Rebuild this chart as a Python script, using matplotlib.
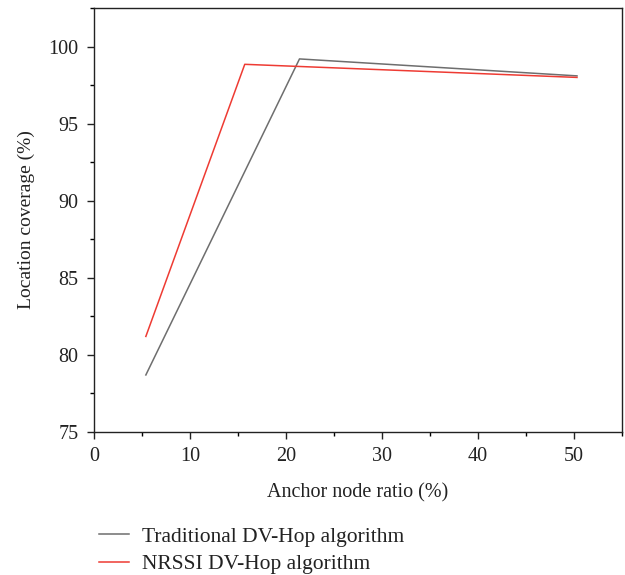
import matplotlib
matplotlib.use('Agg')
import matplotlib.pyplot as plt
from matplotlib.ticker import MultipleLocator

plt.rcParams['font.family'] = ['Liberation Serif', 'DejaVu Serif']

# Data
anchor_ratio_trad = [5.4, 21.4, 50.3]
coverage_trad = [78.7, 99.2, 98.1]
anchor_ratio_nrssi = [5.4, 15.7, 50.3]
coverage_nrssi = [81.2, 98.85, 98.0]
series_labels = ['Traditional DV-Hop algorithm', 'NRSSI DV-Hop algorithm']

fig = plt.figure(figsize=(6.25, 5.75), dpi=100)
ax = fig.add_axes([0.1504, 0.2487, 0.845, 0.7373])

l1, = ax.plot(anchor_ratio_trad, coverage_trad, color='#6e6e6e', lw=1.1)
l2, = ax.plot(anchor_ratio_nrssi, coverage_nrssi, color='#ee3b33', lw=1.1)

ax.set_xlim(0, 55)
ax.set_ylim(75, 102.5)
ax.xaxis.set_major_locator(MultipleLocator(10))
ax.xaxis.set_minor_locator(MultipleLocator(5))
ax.yaxis.set_major_locator(MultipleLocator(5))
ax.yaxis.set_minor_locator(MultipleLocator(2.5))
ax.tick_params(which='major', direction='out', length=5, width=1, labelsize=14.5,
               colors='#222222', pad=6)
ax.tick_params(which='minor', direction='out', length=3, width=1)
for s in ax.spines.values():
    s.set_linewidth(1)
    s.set_color('#222222')

ax.set_xlabel('Anchor node ratio (%)', fontsize=14.5, color='#222222', labelpad=12)
ax.set_ylabel('Location coverage (%)', fontsize=14, color='#222222', labelpad=10)

fig.legend([l1, l2], series_labels, loc='center left', bbox_to_anchor=(0.158, 0.043),
           frameon=False, fontsize=15.5, handlelength=1.4, handletextpad=0.6,
           labelspacing=0.35, borderaxespad=0, borderpad=0, labelcolor='#222222')

fig.savefig('out.png', dpi=100)
